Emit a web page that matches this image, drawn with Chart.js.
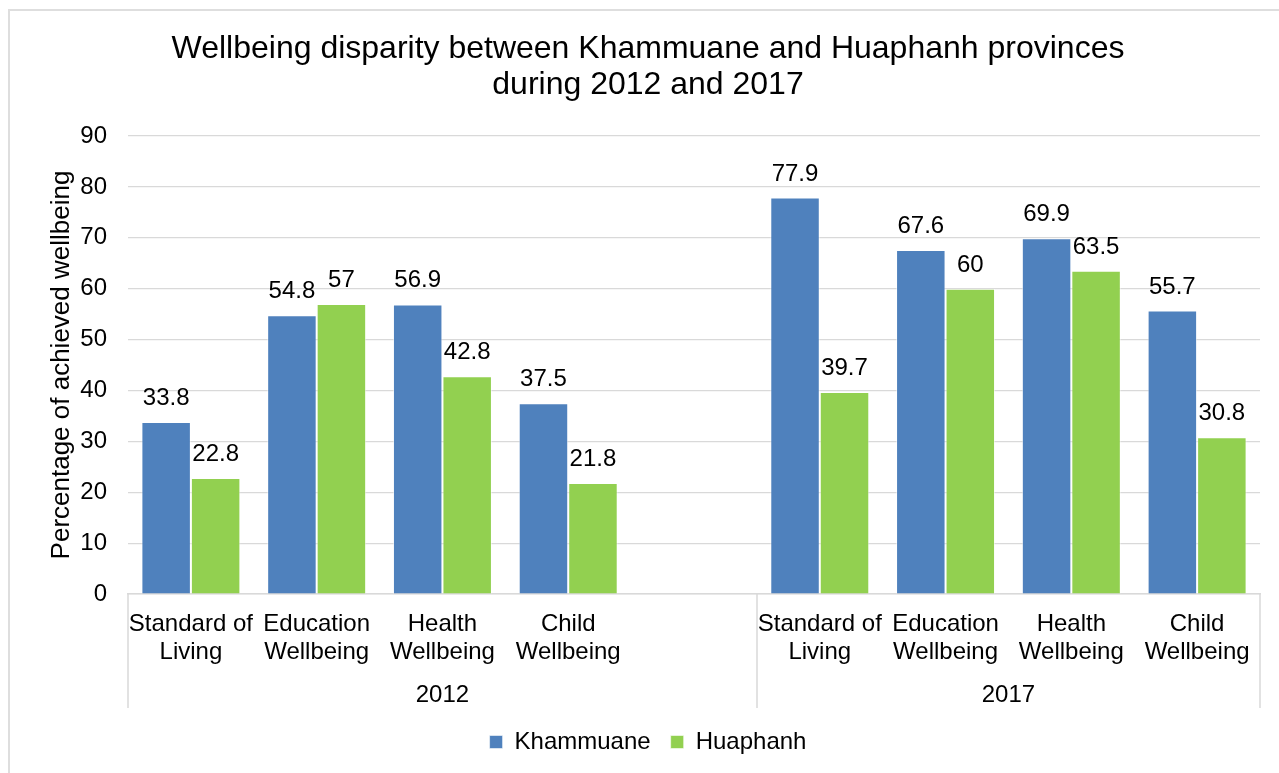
<!DOCTYPE html>
<html>
<head>
<meta charset="utf-8">
<script src="https://cdn.jsdelivr.net/npm/chart.js@4.4.1/dist/chart.umd.min.js"></script>
<style>
  html, body { margin: 0; padding: 0; background: #fff; overflow: hidden; }
  #wrap { position: absolute; left: 0; top: 0; width: 1279px; height: 773px; }
</style>
</head>
<body>
<div id="wrap"><canvas id="wellbeingChart"></canvas></div>
<script>
// data
const years = ["2012", "2017"];
const categories = [
  ["Standard of", "Living"],
  ["Education", "Wellbeing"],
  ["Health", "Wellbeing"],
  ["Child", "Wellbeing"],
];
const khammuane2012 = [33.8, 54.8, 56.9, 37.5];
const huaphanh2012 = [22.8, 57, 42.8, 21.8];
const khammuane2017 = [77.9, 67.6, 69.9, 55.7];
const huaphanh2017 = [39.7, 60, 63.5, 30.8];
const yMin = 0, yMax = 90, yStep = 10;

const FONT = "'Liberation Sans', Arial, sans-serif";
const GRID = "#d9d9d9";

// one empty slot separates the two year groups
const labels = [...categories, "", ...categories];
const groupStarts = [0, categories.length + 1];

// small plugin: value labels above the bars
const valueLabels = {
  id: "valueLabels",
  afterDatasetsDraw(chart) {
    const { ctx } = chart;
    ctx.save();
    ctx.font = "24px " + FONT;
    ctx.fillStyle = "#000";
    ctx.textAlign = "center";
    ctx.textBaseline = "alphabetic";
    chart.data.datasets.forEach((ds, i) => {
      chart.getDatasetMeta(i).data.forEach((bar, j) => {
        const v = ds.data[j];
        if (v === null || v === undefined) return;
        ctx.fillText(String(v), bar.x, bar.y - 17);
      });
    });
    ctx.restore();
  },
};

// second level of the category axis (years) plus frame lines
const groupAxis = {
  id: "groupAxis",
  beforeDraw(chart) {
    const { ctx } = chart;
    ctx.save();
    ctx.fillStyle = "#fff";
    ctx.fillRect(0, 0, chart.width, chart.height);
    ctx.fillStyle = "#dedede";
    ctx.fillRect(8, 9, chart.width, 2);
    ctx.fillRect(8, 9, 2, chart.height);
    ctx.restore();
  },
  afterDraw(chart) {
    const { ctx, chartArea } = chart;
    const x = chart.scales.x;
    const bottom = 708;
    ctx.save();
    ctx.strokeStyle = GRID;
    ctx.lineWidth = 1.5;
    const edges = [-0.5, groupStarts[1] - 0.5, labels.length - 0.5];
    edges.forEach((e) => {
      const px = Math.round(x.getPixelForValue(e));
      ctx.beginPath();
      ctx.moveTo(px, chartArea.bottom);
      ctx.lineTo(px, bottom);
      ctx.stroke();
    });
    ctx.font = "24px " + FONT;
    ctx.fillStyle = "#000";
    ctx.textAlign = "center";
    ctx.textBaseline = "alphabetic";
    years.forEach((yr, g) => {
      const from = edges[g], to = edges[g + 1];
      ctx.fillText(yr, x.getPixelForValue((from + to) / 2), 702);
    });
    ctx.restore();
  },
};

new Chart(document.getElementById("wellbeingChart"), {
  type: "bar",
  data: {
    labels: labels,
    datasets: [
      {
        label: "Khammuane",
        data: [...khammuane2012, null, ...khammuane2017],
        backgroundColor: "#4f81bd",
        borderColor: "rgba(255,255,255,0.55)",
        borderWidth: 1,
        barPercentage: 1,
        categoryPercentage: 0.787,
      },
      {
        label: "Huaphanh",
        data: [...huaphanh2012, null, ...huaphanh2017],
        backgroundColor: "#92d050",
        borderColor: "rgba(255,255,255,0.55)",
        borderWidth: 1,
        barPercentage: 1,
        categoryPercentage: 0.787,
      },
    ],
  },
  options: {
    responsive: true,
    maintainAspectRatio: false,
    animation: false,
    layout: { padding: { left: 36, right: 19, top: 0, bottom: 9 } },
    scales: {
      x: {
        grid: { display: false, drawTicks: false },
        border: { display: true, color: GRID, width: 1.5 },
        ticks: {
          color: "#000",
          font: { family: FONT, size: 24, lineHeight: 1.155 },
          padding: 17,
          maxRotation: 0,
          autoSkip: false,
        },
        afterFit(scale) { scale.height = 116; },
      },
      y: {
        min: yMin,
        max: yMax,
        ticks: {
          stepSize: yStep,
          color: "#000",
          font: { family: FONT, size: 24 },
          padding: 21,
        },
        grid: { color: GRID, lineWidth: 1.2, drawTicks: false },
        border: { display: false },
        title: {
          display: true,
          text: "Percentage of achieved wellbeing",
          color: "#000",
          font: { family: FONT, size: 26, lineHeight: 1.2 },
          padding: { top: 10, bottom: 0 },
        },
        afterFit(scale) { scale.width = 92; },
      },
    },
    plugins: {
      title: {
        display: true,
        text: ["Wellbeing disparity between Khammuane and Huaphanh provinces", "during 2012 and 2017"],
        color: "#000",
        font: { family: FONT, size: 32, weight: "normal", lineHeight: 1.125 },
        padding: { top: 31, bottom: 33 },
      },
      legend: {
        position: "bottom",
        labels: {
          color: "#000",
          font: { family: FONT, size: 24 },
          boxWidth: 13,
          boxHeight: 13,
          padding: 20,
        },
      },
      tooltip: { enabled: false },
    },
  },
  plugins: [valueLabels, groupAxis],
});
</script>
</body>
</html>
